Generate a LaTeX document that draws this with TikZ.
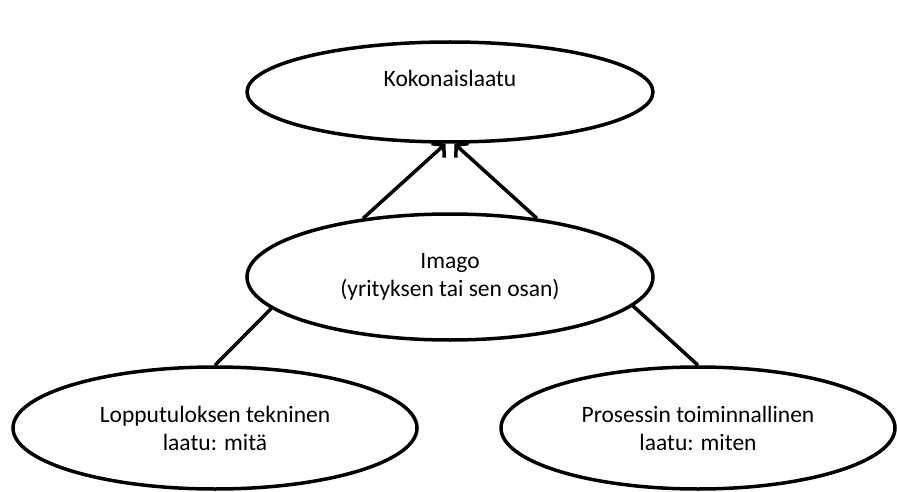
\documentclass[tikz,border=0pt]{standalone}
\usepackage{fontspec}
\setmainfont{Carlito}
\usepackage{tikz}
\usetikzlibrary{shapes.geometric}
\usetikzlibrary{arrows.meta}

\tikzset{
  quality/.style={ellipse, draw, line width=3.5pt, align=center,
    font=\fontsize{23.5}{28}\selectfont, inner sep=0pt},
  link/.style={line width=3.5pt},
}

\begin{document}
\begin{tikzpicture}[x=1pt,y=-1pt]
      \useasboundingbox (0,0) rectangle (897,492);
      \node[quality, minimum width=406pt, minimum height=100pt] (total) at (450,92) {\raisebox{28pt}{Kokonaislaatu}};
      \node[quality, minimum width=406pt, minimum height=126pt] (image) at (450,277) {Imago\\(yrityksen tai sen osan)};
      \node[quality, minimum width=404pt, minimum height=122pt] (tech) at (215,428) {Lopputuloksen tekninen\\laatu: mitä};
      \node[quality, minimum width=394pt, minimum height=122pt] (func) at (698,428) {Prosessin toiminnallinen\\laatu: miten};
      \path [-{Straight Barb[length=8pt,width=19pt,line width=3.5pt]}, link] (image.146) edge (total.265);
      \path [-{Straight Barb[length=8pt,width=19pt,line width=3.5pt]}, link] (image.34) edge (total.275);
      \path [link] (image.190) edge (tech.north);
      \path [link] (image.351) edge (func.north);
      \end{tikzpicture}
\end{document}
